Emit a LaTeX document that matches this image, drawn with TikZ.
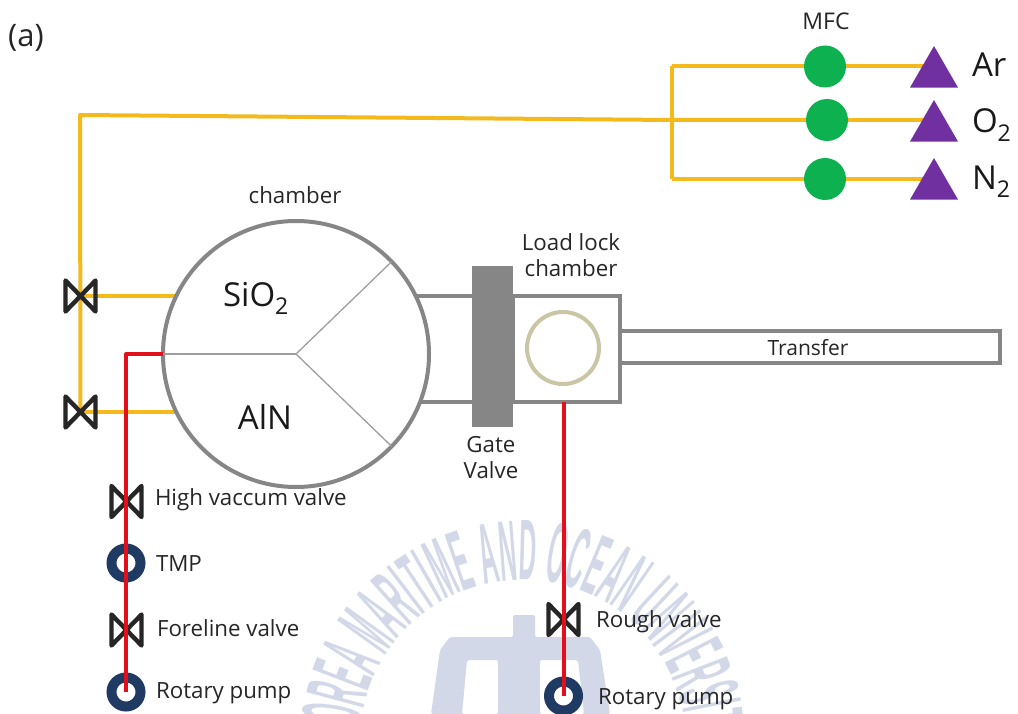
\documentclass[tikz,border=0pt]{standalone}
\usepackage{fontspec}
\setmainfont{Open Sans}
\newfontfamily\wmfont[FakeStretch=0.28]{Liberation Sans Bold}
\usetikzlibrary{shapes.geometric,decorations.text,backgrounds}
\definecolor{gas}{HTML}{F4B91C}
\definecolor{vac}{HTML}{E2101A}
\definecolor{wall}{HTML}{868686}
\definecolor{mfcgreen}{HTML}{0DB14F}
\definecolor{srcpurple}{HTML}{7030A0}
\definecolor{pumpblue}{HTML}{1F3A63}
\definecolor{waferc}{HTML}{C9C5A5}
\definecolor{wmark}{HTML}{D3D8E9}
\tikzset{
  every node/.append style={outer sep=0pt},
  gasline/.style={draw=gas,line width=4pt,line join=round},
  vacline/.style={draw=vac,line width=4pt,line join=round},
  wallline/.style={draw=wall,line width=4pt},
  spoke/.style={draw=wall!80,line width=1.3pt},
  valvebox/.style={inner sep=0pt,minimum width=30pt,minimum height=31pt},
  valveline/.style={draw=black!85,line width=4.4pt,line join=round,line cap=round},
  pump/.style={circle,draw=pumpblue,fill=white,line width=10pt,minimum size=29pt,inner sep=0pt},
  mfc/.style={circle,fill=mfcgreen,minimum size=42pt,inner sep=0pt},
  source/.style={regular polygon,regular polygon sides=3,fill=srcpurple,minimum size=55.4pt,inner sep=0pt},
  lab/.style={font=\fontsize{22.3}{26}\selectfont,text=black!85,inner sep=0pt},
  llab/.style={lab,anchor=west},
  biglab/.style={font=\fontsize{33}{38}\selectfont,text=black!90,inner sep=0pt}
}
\newcommand{\valvesym}[2]{%
  \node[valvebox] (#1) at (#2) {};
  \draw[valveline] (#1.north west) -- (#1.south east) -- (#1.north east) -- (#1.south west) -- cycle;}
\begin{document}
\begin{tikzpicture}[x=1pt,y=-1pt]
\useasboundingbox (0,0) rectangle (1018,714);
\begin{scope}[on background layer]
\fill[white] (0,0) rectangle (1018,714);
\clip (0,0) rectangle (1018,714);
% watermark
\path[decorate,decoration={text along path,text align=center,
   text color=wmark,
   text={|\wmfont\fontsize{86}{90}\selectfont|KOREA MARITIME AND OCEAN UNIVERSITY}}]
   (523pt,-743pt) ++(190:163pt) arc[start angle=190,end angle=-10,radius=163pt];
\fill[wmark,even odd rule,rounded corners=2pt]
   (513,615) -- (535,615) -- (535,637) -- (590,637) -- (600,650) -- (610,714) -- (431,714) -- (440,650) -- (450,637) -- (513,637) -- cycle
   (467,660) -- (498,660) -- (498,714) -- (462,714) -- cycle
   (540,660) -- (578,660) -- (584,714) -- (540,714) -- cycle;
\end{scope}
% chamber and load lock
\node[circle,draw=wall,fill=white,line width=4pt,minimum size=266pt,inner sep=0pt] (chamber) at (296,354) {};
\draw[spoke] (chamber.center) -- (chamber.180);
\draw[spoke] (chamber.center) -- (chamber.44);
\draw[spoke] (chamber.center) -- (chamber.-44);
\node[rectangle,draw=wall,line width=4pt,minimum width=380pt,minimum height=32pt,inner sep=0pt] (transfer) at (810,347) {};
\node[rectangle,fill=white,draw=wall,line width=4pt,minimum width=107pt,minimum height=106pt,inner sep=0pt] (loadlock) at (566.5,349) {};
\node[rectangle,fill=wall,minimum width=41pt,minimum height=161pt,inner sep=0pt] (gate) at (492.5,346.5) {};
\begin{scope}[on background layer]
\draw[wallline] (chamber.25.9 |- loadlock.north) -- (gate.west |- loadlock.north);
\draw[wallline] (chamber.-20.7 |- loadlock.south) -- (gate.west |- loadlock.south);
\end{scope}
\node[circle,draw=waferc,line width=4pt,minimum size=72pt,inner sep=0pt] (wafer) at (563,348) {};
% gas
\coordinate (corner) at (80,115);
\coordinate (branch) at (671.5,120);
\node[mfc] (mfcar) at (825,66.5) {};
\node[mfc] (mfco) at (827,120) {};
\node[mfc] (mfcn) at (825,179) {};
\node[source] (srcar) at (934,73.7) {};
\node[source] (srco) at (934,127.7) {};
\node[source] (srcn) at (934,185.7) {};
\valvesym{va}{80.5,296}
\valvesym{vb}{80.5,412}
\begin{scope}[on background layer]
\draw[gasline] (vb.center) -- (corner) -- (branch) -- (mfco.center);
\draw[gasline] (va.center) -- (chamber.154.1 |- va.center);
\draw[gasline] (vb.center) -- (chamber.-153.7 |- vb.center);
\draw[gasline] (mfcar.center -| branch) -- (mfcn.center -| branch);
\draw[gasline] (mfcar.center -| branch) -- (mfcar.center);
\draw[gasline] (mfcn.center -| branch) -- (mfcn.center);
\draw[gasline] (mfcar.center) -- (mfcar.center -| srcar.center);
\draw[gasline] (mfco.center) -- (mfco.center -| srco.center);
\draw[gasline] (mfcn.center) -- (mfcn.center -| srcn.center);
\end{scope}
% pumps and valves on vacuum lines
\node[pump] (tmp) at (126,563) {};
\node[pump] (rpa) at (126,692) {};
\node[pump] (rpb) at (563.5,696) {};
\valvesym{vhv}{126.5,501.5}
\valvesym{vfl}{126.5,630}
\valvesym{vrv}{563.5,619.5}
\draw[vacline] (chamber.west) -| (rpa.center);
\draw[vacline] (loadlock.south -| rpb) -- (rpb.center);
% labels
\node[lab,font=\fontsize{31}{36}\selectfont] (ta) at (26,38) {(a)};
\node[lab,font=\fontsize{23}{26}\selectfont] (tmfc) at (826,21) {MFC};
\node[lab] (tch) at (295,195) {chamber};
\node[lab,align=center] (tll) at (571,255) {Load lock\\chamber};
\node[lab,align=center] (tgv) at (491,458) {Gate\\Valve};
\node[lab,font=\fontsize{21}{26}\selectfont] (ttr) at (808,348) {Transfer};
\node[llab] (thv) at (155,500) {High vaccum valve};
\node[llab] (ttmp) at (156,564) {TMP};
\node[llab] (tfl) at (157,628) {Foreline valve};
\node[llab] (trpa) at (156,693) {Rotary pump};
\node[llab] (trv) at (596,622) {Rough valve};
\node[llab] (trpb) at (598,699) {Rotary pump};
\node[biglab] (tsi) at (256,298) {SiO\textsubscript{2}};
\node[biglab] (tal) at (265,417) {AlN};
\node[biglab,anchor=west] (tar) at (972,64.5) {Ar};
\node[biglab,anchor=west] (to) at (972,125) {O\textsubscript{2}};
\node[biglab,anchor=west] (tn) at (972,182) {N\textsubscript{2}};
\end{tikzpicture}
\end{document}
